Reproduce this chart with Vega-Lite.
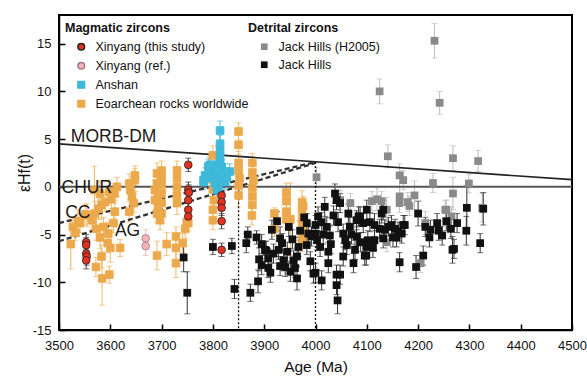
{
"$schema":"https://vega.github.io/schema/vega-lite/v6.json",
"width":513,"height":315,
"autosize":{"type":"none"},
"padding":{"left":59,"top":15,"right":15,"bottom":47},
"config":{"view":{"stroke":"#000","strokeWidth":2},"font":"Liberation Sans","text":{"font":"Liberation Sans"}},
"datasets":{
"pts":[
{"g":"O","a":3523,"e":-6.0,"s":2.6},{"g":"O","a":3527,"e":-4.2,"s":1.0},{"g":"O","a":3532,"e":-4.8,"s":0.8},{"g":"O","a":3537,"e":-3.6,"s":1.2},{"g":"O","a":3541,"e":-3.8,"s":1.0},{"g":"O","a":3551,"e":-2.9,"s":1.1},{"g":"O","a":3555,"e":-3.0,"s":1.2},{"g":"O","a":3564,"e":-3.5,"s":1.0},{"g":"O","a":3569,"e":-0.35,"s":2.5},{"g":"O","a":3570,"e":-2.8,"s":1.3},{"g":"O","a":3573,"e":-4.4,"s":1.2},{"g":"O","a":3572,"e":-8.4,"s":1.0},{"g":"O","a":3577,"e":-2.3,"s":1.1},{"g":"O","a":3580,"e":-5.3,"s":1.2},{"g":"O","a":3580,"e":-0.7,"s":1.3},{"g":"O","a":3583,"e":-1.9,"s":1.5},{"g":"O","a":3583,"e":-7.3,"s":1.2},{"g":"O","a":3584,"e":-9.6,"s":2.8},{"g":"O","a":3587,"e":-4.2,"s":1.0},{"g":"O","a":3590,"e":-1.6,"s":1.0},{"g":"O","a":3595,"e":-5.9,"s":1.0},{"g":"O","a":3596,"e":-4.9,"s":1.2},{"g":"O","a":3598,"e":-9.2,"s":0.9},{"g":"O","a":3598,"e":-0.5,"s":1.2},{"g":"O","a":3600,"e":-6.4,"s":1.5},{"g":"O","a":3602,"e":-1.3,"s":1.0},{"g":"O","a":3606,"e":-3.8,"s":1.0},{"g":"O","a":3608,"e":-0.7,"s":1.0},{"g":"O","a":3609,"e":-2.6,"s":1.2},{"g":"O","a":3613,"e":0.0,"s":1.0},{"g":"O","a":3619,"e":-6.4,"s":0.9},{"g":"O","a":3637,"e":0.35,"s":1.0},{"g":"O","a":3637,"e":-2.6,"s":1.1},{"g":"O","a":3639,"e":-0.35,"s":1.0},{"g":"O","a":3642,"e":-1.0,"s":1.2},{"g":"O","a":3646,"e":-1.7,"s":1.0},{"g":"O","a":3648,"e":0.7,"s":1.2},{"g":"O","a":3648,"e":1.2,"s":1.0},{"g":"O","a":3687,"e":-0.35,"s":1.0},{"g":"O","a":3687,"e":-1.4,"s":1.2},{"g":"O","a":3691,"e":1.4,"s":1.1},{"g":"O","a":3691,"e":0.35,"s":1.0},{"g":"O","a":3691,"e":-2.8,"s":1.0},{"g":"O","a":3691,"e":-7.2,"s":1.5},{"g":"O","a":3693,"e":-0.9,"s":1.0},{"g":"O","a":3693,"e":-2.1,"s":1.2},{"g":"O","a":3697,"e":-3.5,"s":1.0},{"g":"O","a":3700,"e":1.7,"s":1.0},{"g":"O","a":3700,"e":1.0,"s":1.0},{"g":"O","a":3700,"e":0.2,"s":1.2},{"g":"O","a":3700,"e":-0.7,"s":1.0},{"g":"O","a":3700,"e":-1.7,"s":1.2},{"g":"O","a":3700,"e":-2.8,"s":1.0},{"g":"O","a":3710,"e":-6.0,"s":1.2},{"g":"O","a":3728,"e":-5.2,"s":1.0},{"g":"O","a":3728,"e":-6.4,"s":1.2},{"g":"O","a":3728,"e":-8.0,"s":1.5},{"g":"O","a":3730,"e":1.7,"s":1.0},{"g":"O","a":3730,"e":0.9,"s":1.2},{"g":"O","a":3730,"e":0.0,"s":1.0},{"g":"O","a":3730,"e":-0.9,"s":1.0},{"g":"O","a":3730,"e":-1.7,"s":1.2},{"g":"O","a":3741,"e":-5.9,"s":1.0},{"g":"O","a":3746,"e":-4.4,"s":1.0},{"g":"O","a":3749,"e":-3.7,"s":1.0},{"g":"O","a":3752,"e":-3.8,"s":0.8},{"g":"O","a":3796,"e":1.7,"s":1.2},{"g":"O","a":3800,"e":3.3,"s":1.0},{"g":"O","a":3800,"e":0.7,"s":1.2},{"g":"O","a":3800,"e":-0.3,"s":1.0},{"g":"O","a":3802,"e":-1.4,"s":1.2},{"g":"O","a":3800,"e":-2.4,"s":1.0},{"g":"O","a":3800,"e":-3.5,"s":1.0},{"g":"O","a":3850,"e":5.8,"s":0.9},{"g":"O","a":3850,"e":4.4,"s":1.0},{"g":"O","a":3850,"e":2.5,"s":1.2},{"g":"O","a":3850,"e":1.7,"s":1.0},{"g":"O","a":3852,"e":0.9,"s":1.2},{"g":"O","a":3850,"e":0.1,"s":1.0},{"g":"O","a":3850,"e":-0.9,"s":1.2},{"g":"O","a":3877,"e":2.5,"s":1.0},{"g":"O","a":3877,"e":1.5,"s":1.2},{"g":"O","a":3879,"e":0.7,"s":1.0},{"g":"O","a":3877,"e":-0.1,"s":1.2},{"g":"O","a":3877,"e":-1.0,"s":1.0},{"g":"O","a":3877,"e":-1.9,"s":1.2},{"g":"O","a":3876,"e":-3.0,"s":1.0},{"g":"O","a":3920,"e":-2.8,"s":0.6},{"g":"O","a":3920,"e":-4.4,"s":0.8},{"g":"O","a":3943,"e":-0.6,"s":1.0},{"g":"O","a":3943,"e":-1.5,"s":1.0},{"g":"O","a":3943,"e":-2.6,"s":1.2},{"g":"O","a":3943,"e":-3.4,"s":1.0},{"g":"O","a":3951,"e":-3.4,"s":3.8},{"g":"O","a":3974,"e":-1.6,"s":1.2},{"g":"O","a":3974,"e":-2.4,"s":1.0},{"g":"O","a":3974,"e":-3.3,"s":1.2},{"g":"O","a":3974,"e":-4.1,"s":1.0},{"g":"O","a":3974,"e":-5.0,"s":1.2},{"g":"O","a":3974,"e":-5.8,"s":1.0},{"g":"O","a":3976,"e":-2.0,"s":1.0},
{"g":"C","a":3814,"e":5.9,"s":1.0},{"g":"C","a":3814,"e":4.5,"s":0.9},{"g":"C","a":3814,"e":3.8,"s":0.8},{"g":"C","a":3814,"e":3.1,"s":0.8},{"g":"C","a":3791,"e":2.1,"s":0.8},{"g":"C","a":3782,"e":0.7,"s":0.8},{"g":"C","a":3785,"e":1.2,"s":0.8},{"g":"C","a":3794,"e":1.6,"s":0.8},{"g":"C","a":3801,"e":1.2,"s":0.8},{"g":"C","a":3808,"e":1.4,"s":0.8},{"g":"C","a":3811,"e":0.7,"s":0.8},{"g":"C","a":3817,"e":0.9,"s":0.8},{"g":"C","a":3824,"e":0.5,"s":0.8},{"g":"C","a":3827,"e":1.0,"s":0.8},{"g":"C","a":3814,"e":2.6,"s":0.8},{"g":"C","a":3817,"e":2.1,"s":0.8},{"g":"C","a":3804,"e":2.3,"s":0.8},{"g":"C","a":3811,"e":0.0,"s":0.8},{"g":"C","a":3808,"e":-0.35,"s":0.8},{"g":"C","a":3798,"e":0.9,"s":0.8},{"g":"C","a":3833,"e":1.6,"s":0.8},{"g":"C","a":3794,"e":2.3,"s":0.8},{"g":"C","a":3804,"e":0.35,"s":0.8},{"g":"C","a":3824,"e":1.6,"s":0.8},{"g":"C","a":3782,"e":0.5,"s":0.8},
{"g":"P","a":3669,"e":-5.4,"s":0.9},{"g":"P","a":3669,"e":-6.2,"s":1.0},
{"g":"R","a":3553,"e":-5.8,"s":0.8},{"g":"R","a":3553,"e":-6.1,"s":0.8},{"g":"R","a":3553,"e":-7.0,"s":0.9},{"g":"R","a":3554,"e":-7.3,"s":0.9},{"g":"R","a":3553,"e":-7.7,"s":0.9},{"g":"R","a":3752,"e":2.3,"s":0.7},{"g":"R","a":3752,"e":-0.3,"s":0.8},{"g":"R","a":3753,"e":-0.6,"s":0.8},{"g":"R","a":3752,"e":-1.4,"s":0.8},{"g":"R","a":3752,"e":-2.4,"s":0.9},{"g":"R","a":3752,"e":-3.1,"s":0.8},{"g":"R","a":3817,"e":-0.9,"s":0.8},{"g":"R","a":3817,"e":-1.6,"s":0.8},{"g":"R","a":3817,"e":-2.2,"s":0.8},{"g":"R","a":3817,"e":-3.6,"s":0.8},{"g":"R","a":3817,"e":-6.6,"s":0.7},
{"g":"G","a":4232,"e":15.3,"s":1.8},{"g":"G","a":4125,"e":10.0,"s":1.3},{"g":"G","a":4242,"e":8.8,"s":1.2},{"g":"G","a":4141,"e":3.2,"s":1.2},{"g":"G","a":4268,"e":3.0,"s":1.3},{"g":"G","a":4317,"e":2.7,"s":1.1},{"g":"G","a":4164,"e":1.2,"s":1.2},{"g":"G","a":4171,"e":0.7,"s":1.0},{"g":"G","a":4229,"e":0.4,"s":1.0},{"g":"G","a":4299,"e":0.35,"s":1.0},{"g":"G","a":4002,"e":1.0,"s":1.0},{"g":"G","a":4268,"e":-0.7,"s":1.7},{"g":"G","a":4164,"e":-1.0,"s":1.0},{"g":"G","a":4193,"e":-0.9,"s":1.5},{"g":"G","a":4164,"e":-1.7,"s":1.0},{"g":"G","a":4180,"e":-1.6,"s":1.0},{"g":"G","a":4183,"e":-2.0,"s":1.0},{"g":"G","a":4255,"e":-2.4,"s":1.0},{"g":"G","a":4265,"e":-3.1,"s":1.0},{"g":"G","a":4325,"e":-2.2,"s":1.5},{"g":"G","a":4068,"e":-1.7,"s":1.0},{"g":"G","a":4110,"e":-1.5,"s":1.0},{"g":"G","a":4120,"e":-1.3,"s":1.2},{"g":"G","a":4129,"e":-1.5,"s":1.0},{"g":"G","a":4139,"e":-2.4,"s":1.3},{"g":"G","a":4048,"e":-1.4,"s":1.0},{"g":"G","a":4214,"e":-3.8,"s":1.2},{"g":"G","a":4139,"e":-5.8,"s":1.0},{"g":"G","a":4205,"e":-8.0,"s":1.0},{"g":"G","a":4253,"e":-2.4,"s":1.0},
{"g":"K","a":3743,"e":-7.4,"s":1.5},{"g":"K","a":3750,"e":-11.1,"s":2.2},{"g":"K","a":3800,"e":-6.3,"s":0.8},{"g":"K","a":3837,"e":-6.2,"s":0.8},{"g":"K","a":3842,"e":-10.7,"s":1.0},{"g":"K","a":3865,"e":-5.9,"s":1.0},{"g":"K","a":3868,"e":-5.0,"s":0.8},{"g":"K","a":3873,"e":-11.1,"s":0.9},{"g":"K","a":3885,"e":-5.3,"s":0.7},{"g":"K","a":3888,"e":-9.9,"s":1.2},{"g":"K","a":3902,"e":-6.6,"s":0.9},{"g":"K","a":3904,"e":-6.7,"s":1.0},{"g":"K","a":3908,"e":-7.5,"s":1.0},{"g":"K","a":3908,"e":-8.5,"s":1.0},{"g":"K","a":3928,"e":-6.6,"s":1.0},{"g":"K","a":3931,"e":-5.4,"s":1.2},{"g":"K","a":3935,"e":-5.9,"s":1.0},{"g":"K","a":3938,"e":-7.7,"s":1.1},{"g":"K","a":3931,"e":-8.3,"s":1.0},{"g":"K","a":3941,"e":-8.4,"s":1.0},{"g":"K","a":3951,"e":-8.9,"s":1.0},{"g":"K","a":3964,"e":-9.6,"s":1.2},{"g":"K","a":3960,"e":-8.5,"s":1.0},{"g":"K","a":3957,"e":-7.7,"s":1.0},{"g":"K","a":3967,"e":-6.3,"s":1.0},{"g":"K","a":3964,"e":-7.3,"s":1.0},{"g":"K","a":3983,"e":-3.8,"s":1.0},{"g":"K","a":3986,"e":-4.9,"s":1.0},{"g":"K","a":3983,"e":-6.1,"s":1.0},{"g":"K","a":3990,"e":-7.8,"s":1.0},{"g":"K","a":3996,"e":-9.1,"s":1.0},{"g":"K","a":4000,"e":-4.0,"s":1.0},{"g":"K","a":4000,"e":-4.9,"s":1.0},{"g":"K","a":4003,"e":-5.6,"s":1.0},{"g":"K","a":4009,"e":-6.3,"s":1.0},{"g":"K","a":4012,"e":-9.8,"s":1.0},{"g":"K","a":4018,"e":-2.1,"s":1.0},{"g":"K","a":4022,"e":-4.2,"s":1.0},{"g":"K","a":4012,"e":-3.7,"s":1.0},{"g":"K","a":4025,"e":-6.8,"s":1.0},{"g":"K","a":4025,"e":-8.0,"s":1.0},{"g":"K","a":4028,"e":-5.1,"s":1.0},{"g":"K","a":4035,"e":-3.0,"s":1.0},{"g":"K","a":4038,"e":-0.7,"s":1.0},{"g":"K","a":4041,"e":-1.4,"s":1.0},{"g":"K","a":4048,"e":-1.7,"s":1.0},{"g":"K","a":4041,"e":-9.2,"s":1.0},{"g":"K","a":4041,"e":-10.3,"s":1.0},{"g":"K","a":4043,"e":-11.9,"s":1.4},{"g":"K","a":4048,"e":-9.2,"s":1.0},{"g":"K","a":4044,"e":-3.7,"s":1.0},{"g":"K","a":4054,"e":-4.9,"s":1.0},{"g":"K","a":4061,"e":-6.1,"s":1.0},{"g":"K","a":4054,"e":-7.3,"s":1.0},{"g":"K","a":4064,"e":-2.8,"s":1.0},{"g":"K","a":4067,"e":-4.2,"s":1.0},{"g":"K","a":4074,"e":-8.0,"s":1.0},{"g":"K","a":4077,"e":-6.6,"s":1.0},{"g":"K","a":4080,"e":-5.2,"s":1.0},{"g":"K","a":4084,"e":-3.1,"s":1.0},{"g":"K","a":4000,"e":-9.0,"s":1.0},{"g":"K","a":4099,"e":-7.2,"s":1.0},{"g":"K","a":4164,"e":-7.9,"s":1.0},{"g":"K","a":4196,"e":-8.4,"s":1.2},{"g":"K","a":4210,"e":-7.2,"s":1.0},{"g":"K","a":4267,"e":-6.6,"s":1.4},{"g":"K","a":4100,"e":-2.4,"s":1.0},{"g":"K","a":4087,"e":-3.1,"s":1.0},{"g":"K","a":4080,"e":-3.5,"s":1.0},{"g":"K","a":4093,"e":-3.8,"s":1.0},{"g":"K","a":4106,"e":-3.7,"s":1.0},{"g":"K","a":4115,"e":-4.0,"s":1.2},{"g":"K","a":4129,"e":-2.8,"s":1.0},{"g":"K","a":4132,"e":-2.4,"s":1.0},{"g":"K","a":4125,"e":-4.4,"s":1.0},{"g":"K","a":4135,"e":-4.5,"s":1.0},{"g":"K","a":4142,"e":-4.2,"s":1.0},{"g":"K","a":4148,"e":-4.0,"s":1.0},{"g":"K","a":4155,"e":-4.4,"s":1.0},{"g":"K","a":4161,"e":-4.7,"s":1.0},{"g":"K","a":4171,"e":-4.0,"s":1.0},{"g":"K","a":4151,"e":-5.3,"s":1.0},{"g":"K","a":4158,"e":-5.3,"s":1.0},{"g":"K","a":4168,"e":-4.9,"s":1.0},{"g":"K","a":4174,"e":-4.0,"s":1.0},{"g":"K","a":4132,"e":-5.4,"s":1.0},{"g":"K","a":4115,"e":-5.6,"s":1.0},{"g":"K","a":4102,"e":-5.6,"s":1.0},{"g":"K","a":4099,"e":-6.3,"s":1.0},{"g":"K","a":4096,"e":-7.2,"s":1.0},{"g":"K","a":4112,"e":-6.4,"s":1.0},{"g":"K","a":4200,"e":-2.8,"s":1.3},{"g":"K","a":4214,"e":-4.2,"s":1.0},{"g":"K","a":4224,"e":-4.5,"s":1.0},{"g":"K","a":4222,"e":-5.3,"s":1.0},{"g":"K","a":4237,"e":-3.8,"s":1.0},{"g":"K","a":4240,"e":-4.6,"s":1.0},{"g":"K","a":4247,"e":-5.1,"s":1.0},{"g":"K","a":4255,"e":-3.6,"s":1.0},{"g":"K","a":4264,"e":-4.4,"s":1.0},{"g":"K","a":4270,"e":-6.5,"s":1.0},{"g":"K","a":4276,"e":-3.8,"s":1.0},{"g":"K","a":4295,"e":-2.2,"s":2.3},{"g":"K","a":4294,"e":-4.6,"s":1.5},{"g":"K","a":4327,"e":-2.3,"s":1.7},{"g":"K","a":4321,"e":-5.9,"s":1.0},{"g":"K","a":3915,"e":-4.5,"s":1.0},{"g":"K","a":3925,"e":-3.6,"s":1.0},{"g":"K","a":3948,"e":-4.2,"s":1.0},{"g":"K","a":3955,"e":-5.5,"s":1.0},{"g":"K","a":3970,"e":-4.6,"s":1.0},{"g":"K","a":3978,"e":-3.2,"s":1.0},{"g":"K","a":3992,"e":-5.2,"s":1.0},{"g":"K","a":4005,"e":-3.1,"s":1.0},{"g":"K","a":4015,"e":-5.0,"s":1.0},{"g":"K","a":4030,"e":-6.0,"s":1.0},{"g":"K","a":4058,"e":-5.6,"s":1.0},{"g":"K","a":4070,"e":-5.0,"s":1.0},{"g":"K","a":4088,"e":-5.8,"s":1.0},{"g":"K","a":3945,"e":-6.8,"s":1.0},{"g":"K","a":3918,"e":-7.0,"s":1.0},{"g":"K","a":3895,"e":-8.2,"s":1.0},{"g":"K","a":3890,"e":-7.6,"s":1.2},{"g":"K","a":3912,"e":-9.0,"s":1.0},{"g":"K","a":3895,"e":-6.0,"s":1.0}
],
"lines":[
{"k":"DM","a":3500,"e":4.5,"a2":4500,"e2":0.75},
{"k":"CHUR","a":3500,"e":0,"a2":4500,"e2":0},
{"k":"CC","a":3500,"e":-3.8,"a2":4000,"e2":2.6},
{"k":"AG","a":3500,"e":-5.7,"a2":4000,"e2":2.5},
{"k":"V","a":3850,"e":0.05,"a2":3850,"e2":-15},
{"k":"V","a":4000,"e":2.6,"a2":4000,"e2":-15}
],
"labels":[
{"t":"MORB-DM","a":3523,"e":4.7},
{"t":"CHUR","a":3505,"e":-0.63},
{"t":"CC","a":3512,"e":-3.3},
{"t":"AG","a":3609,"e":-5.2}
]
},
"layer":[
{"data":{"name":"pts"},
 "mark":{"type":"errorbar","ticks":{"size":6},"thickness":1},
 "encoding":{
  "x":{"field":"a","type":"quantitative","scale":{"domain":[3500,4500],"nice":false},
   "axis":{"title":"Age (Ma)","values":[3500,3600,3700,3800,3900,4000,4100,4200,4300,4400,4500],"format":"d","grid":false,"tickSize":-6,"tickWidth":1.5,"tickColor":"#000","domainColor":"#000","domainWidth":1.5,"labelPadding":15,"labelFontSize":13,"labelColor":"#111","titleFontSize":15.5,"titleFontWeight":"normal","titleColor":"#111","titlePadding":7,"labelFlush":false}},
  "y":{"field":"e","type":"quantitative","scale":{"domain":[-15,18],"nice":false,"zero":false},
   "axis":{"title":"εHf(t)","values":[-15,-10,-5,0,5,10,15],"labelExpr":"''+datum.value","grid":false,"tickSize":-6,"tickWidth":1.5,"tickColor":"#000","domainColor":"#000","domainWidth":1.5,"labelPadding":14,"labelFontSize":13,"labelColor":"#111","titleFontSize":16,"titleFontWeight":"normal","titleColor":"#111","titlePadding":0}},
  "yError":{"field":"s"},
  "color":{"field":"g","type":"nominal","legend":null,"scale":{"domain":["O","C","P","R","G","K"],"range":["#eeb662","#4bbbd9","#efb3bb","#333333","#bdbdbd","#333333"]}}
 }},
{"data":{"name":"lines"},"transform":[{"filter":"datum.k=='DM'"}],
 "mark":{"type":"rule","color":"#222","strokeWidth":1.6},
 "encoding":{"x":{"field":"a","type":"quantitative"},"y":{"field":"e","type":"quantitative"},"x2":{"field":"a2"},"y2":{"field":"e2"}}},
{"data":{"name":"lines"},"transform":[{"filter":"datum.k=='CHUR'"}],
 "mark":{"type":"rule","color":"#555","strokeWidth":2},
 "encoding":{"x":{"field":"a","type":"quantitative"},"y":{"field":"e","type":"quantitative"},"x2":{"field":"a2"},"y2":{"field":"e2"}}},
{"data":{"name":"lines"},"transform":[{"filter":"datum.k=='CC' || datum.k=='AG'"}],
 "mark":{"type":"rule","color":"#333","strokeWidth":2.3,"strokeDash":[5,3]},
 "encoding":{"x":{"field":"a","type":"quantitative"},"y":{"field":"e","type":"quantitative"},"x2":{"field":"a2"},"y2":{"field":"e2"}}},
{"data":{"name":"lines"},"transform":[{"filter":"datum.k=='V'"}],
 "mark":{"type":"rule","color":"#111","strokeWidth":1.3,"strokeDash":[2,2]},
 "encoding":{"x":{"field":"a","type":"quantitative"},"y":{"field":"e","type":"quantitative"},"x2":{"field":"a2"},"y2":{"field":"e2"}}},
{"data":{"name":"pts"},"transform":[{"filter":"datum.g=='O' || datum.g=='C' || datum.g=='P' || datum.g=='R'"}],
 "mark":{"type":"point","filled":true,"size":60,"opacity":1,"strokeWidth":0.8},
 "encoding":{
  "x":{"field":"a","type":"quantitative"},"y":{"field":"e","type":"quantitative"},
  "fill":{"field":"g","type":"nominal","title":"Magmatic zircons","scale":{"domain":["R","P","C","O"],"range":["#e0321f","#f2b3bb","#3eb9d9","#eca94b"]},
   "legend":{"orient":"none","legendX":6,"legendY":7,"padding":0,"titleFontSize":12.5,"titleFontWeight":"bold","titleColor":"#111","labelFontSize":12.5,"labelColor":"#111","symbolSize":45,"rowPadding":5,"labelOffset":8,"symbolOffset":10,"titlePadding":6,
   "labelExpr":"datum.value=='R'?'Xinyang (this study)':datum.value=='P'?'Xinyang (ref.)':datum.value=='C'?'Anshan':'Eoarchean rocks worldwide'"}},
  "stroke":{"field":"g","type":"nominal","title":"Magmatic zircons","scale":{"domain":["R","P","C","O"],"range":["#222222","#a07880","#3eb9d9","#eca94b"]}},
  "shape":{"field":"g","type":"nominal","title":"Magmatic zircons","scale":{"domain":["R","P","C","O"],"range":["circle","circle","square","square"]}}
 }},
{"data":{"name":"pts"},"transform":[{"filter":"datum.g=='G' || datum.g=='K'"}],
 "mark":{"type":"square","filled":true,"size":60,"opacity":1},
 "encoding":{
  "x":{"field":"a","type":"quantitative"},"y":{"field":"e","type":"quantitative"},
  "color":{"field":"g","type":"nominal","title":"Detrital zircons","scale":{"domain":["G","K"],"range":["#8a8a8a","#111111"]},
   "legend":{"orient":"none","legendX":189,"legendY":7,"padding":0,"titleFontSize":12.5,"titleFontWeight":"bold","titleColor":"#111","labelFontSize":12.5,"labelColor":"#111","symbolSize":45,"symbolType":"square","rowPadding":5,"labelOffset":8,"symbolOffset":10,"titlePadding":6,
   "labelExpr":"datum.value=='G'?'Jack Hills (H2005)':'Jack Hills'"}}
 }},
{"data":{"name":"labels"},
 "mark":{"type":"text","align":"left","baseline":"alphabetic","fontSize":17.5,"color":"#1a1a1a"},
 "encoding":{"x":{"field":"a","type":"quantitative"},"y":{"field":"e","type":"quantitative"},"text":{"field":"t"}}}
],
"resolve":{"scale":{"color":"independent","fill":"independent","stroke":"independent","shape":"independent"}}
}
